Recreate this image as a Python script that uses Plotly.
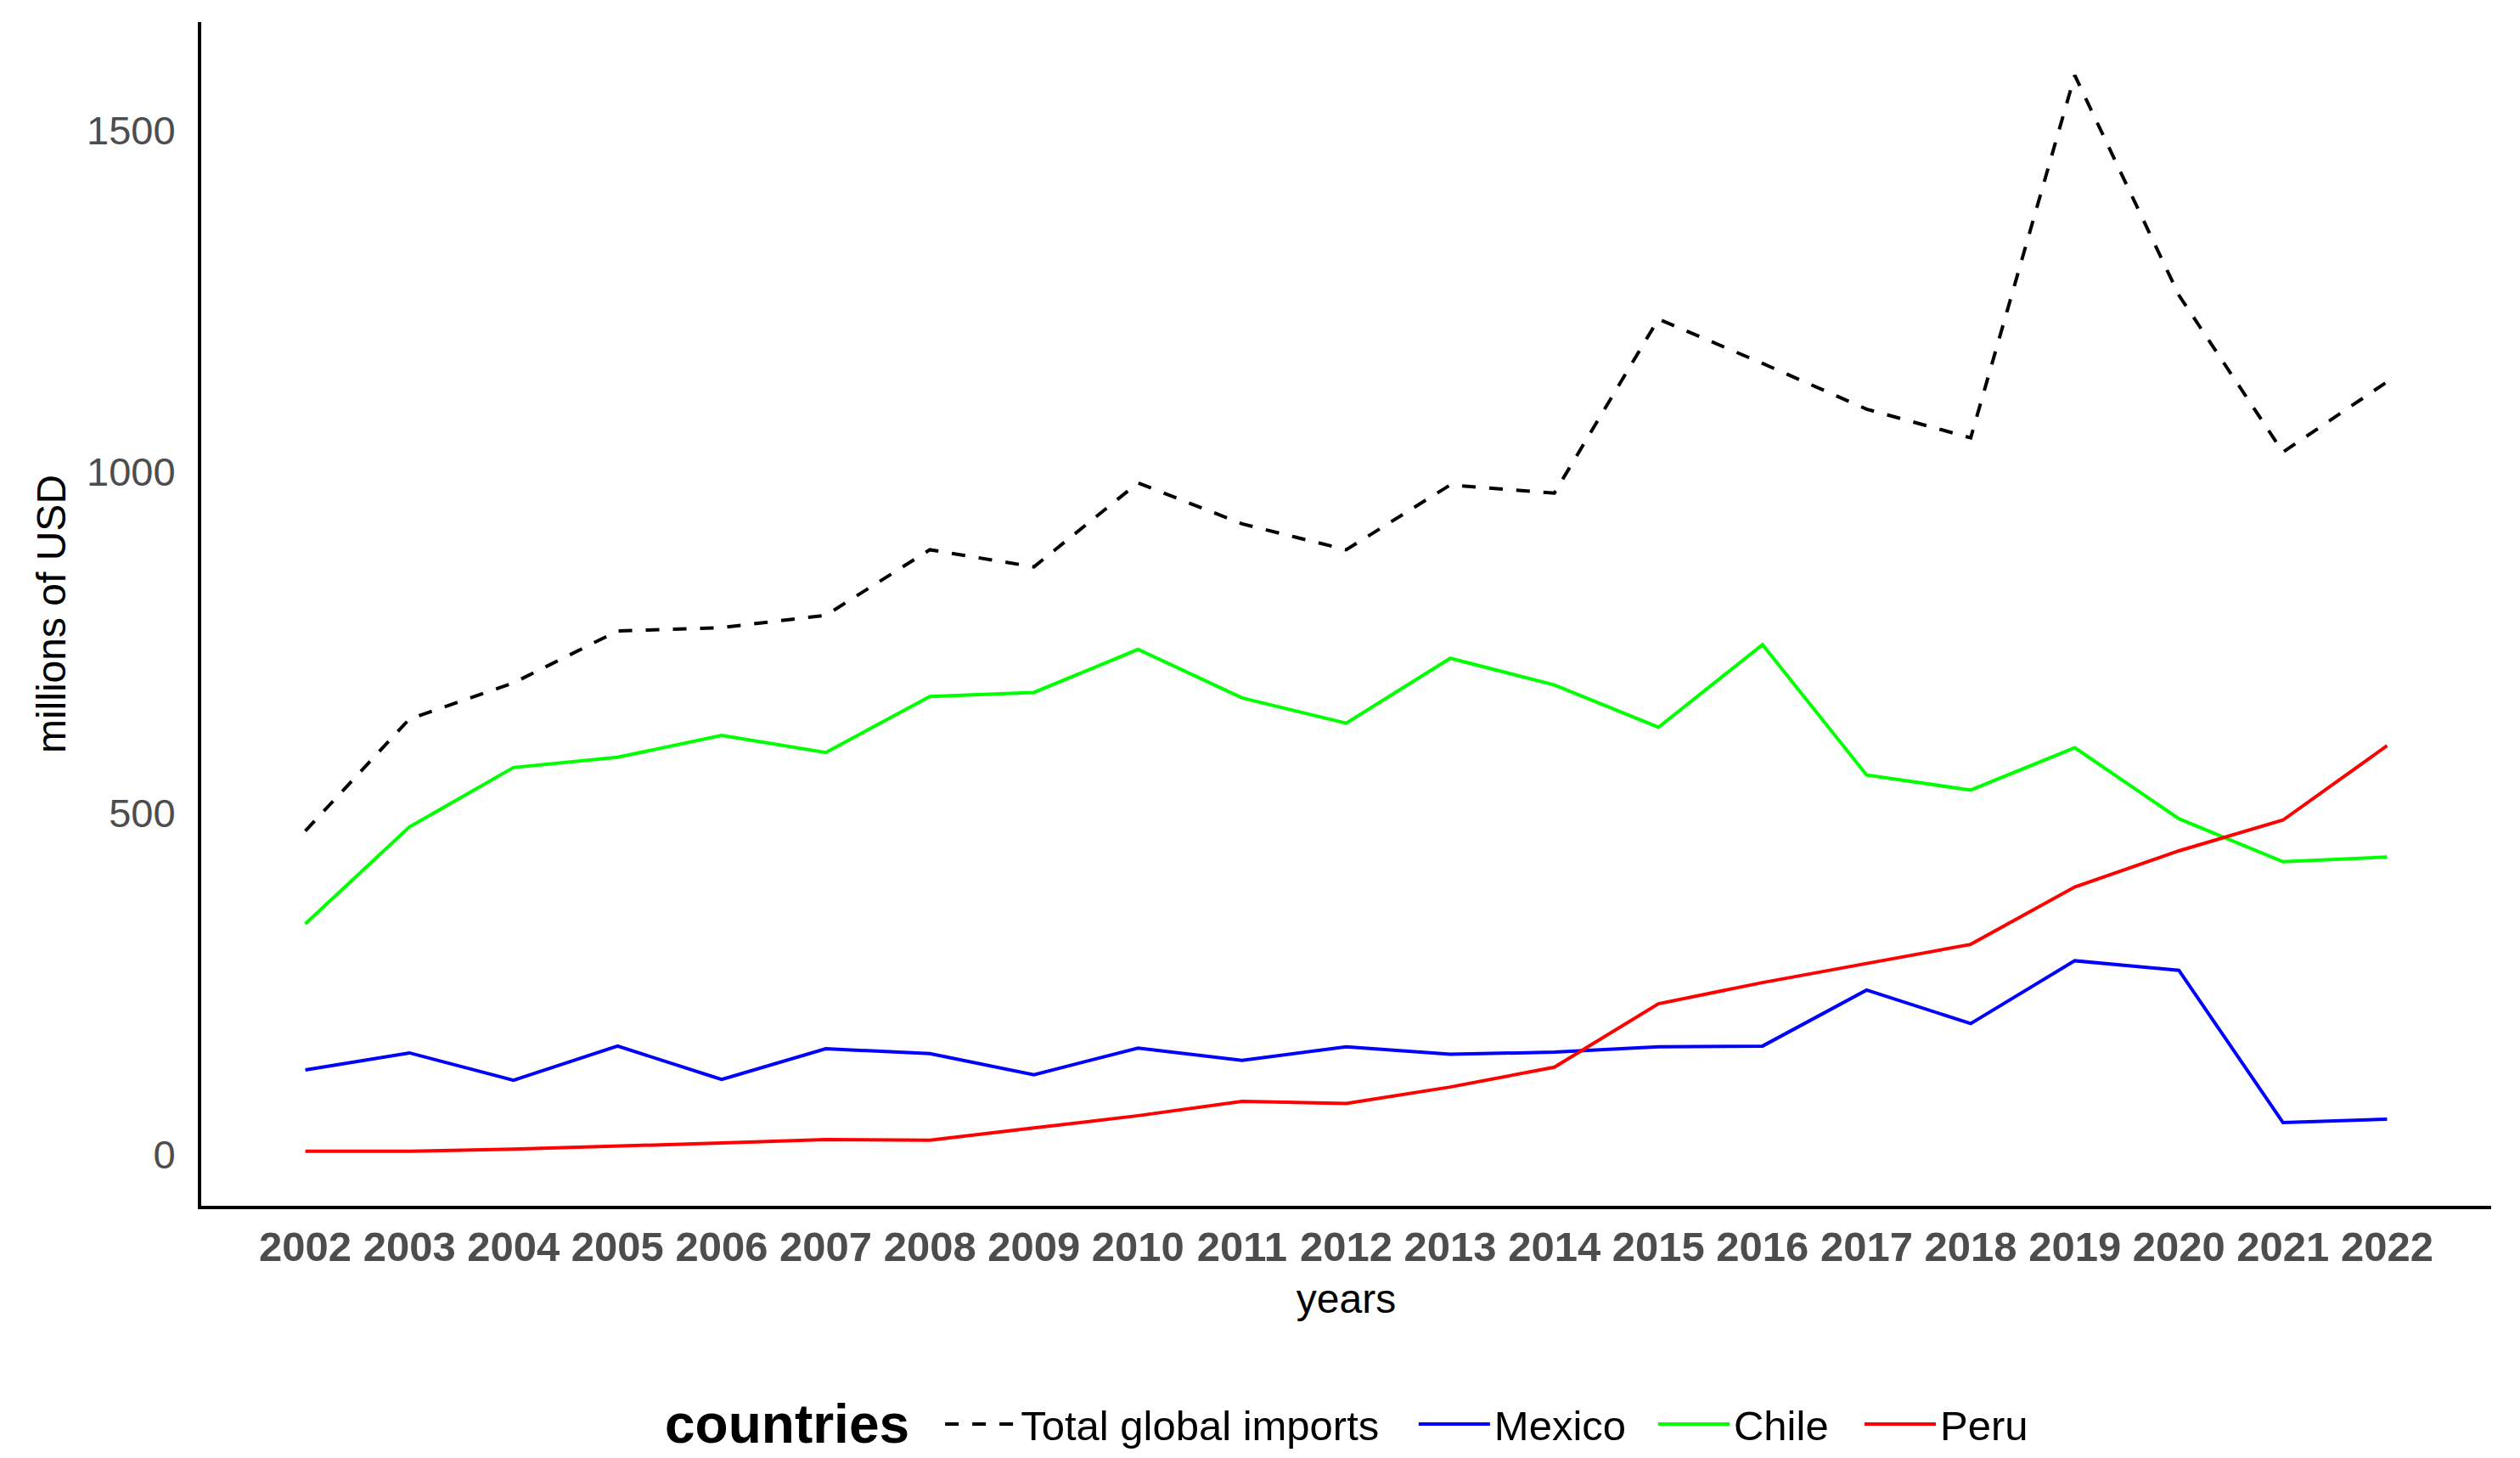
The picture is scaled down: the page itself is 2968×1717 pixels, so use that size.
import plotly.graph_objects as go

# ---- data (millions of USD) ----
years = list(range(2002, 2023))
year_labels = [str(y) for y in years]

total_imports = [474, 638, 691, 767, 772, 790, 886, 861, 984, 924, 886,
                 981, 969, 1224, 1159, 1092, 1050, 1581, 1259, 1029, 1132]
mexico = [124, 149, 109, 159, 110, 155, 148, 117, 156, 138, 158,
          147, 150, 158, 159, 241, 192, 284, 270, 47, 52]
chile = [338, 480, 567, 582, 614, 589, 671, 677, 740, 669, 632,
         727, 688, 626, 747, 556, 534, 596, 492, 429, 436]
peru = [5, 5, 8, 12, 17, 22, 21, 39, 57, 78, 75,
        99, 128, 221, 252, 280, 308, 392, 445, 490, 599]

series_names = ["Total global imports", "Mexico", "Chile", "Peru"]
series_values = [total_imports, mexico, chile, peru]
series_colors = ["black", "#0000FF", "#00FF00", "#FF0000"]
series_dash = ["16px,16px", "solid", "solid", "solid"]
legend_ids = ["legend", "legend2", "legend3", "legend4"]
legend_x = [0.3230, 0.5298, 0.6344, 0.7245]

y_ticks = [0, 500, 1000, 1500]

FONT = "Liberation Sans, Arial, Helvetica, sans-serif"
LEG_Y = -0.1844

fig = go.Figure()
for name, vals, col, dash, lid in zip(series_names, series_values, series_colors,
                                      series_dash, legend_ids):
    fig.add_trace(go.Scatter(
        x=years, y=vals, mode="lines", name=name, legend=lid,
        line=dict(color=col, width=4, dash=dash),
    ))

legend_common = dict(
    orientation="h", xanchor="left", y=LEG_Y, yanchor="middle",
    font=dict(size=49, color="black", family=FONT),
    itemwidth=84, bgcolor="rgba(0,0,0,0)", borderwidth=0,
)
legend_layout = {}
for lid, lx in zip(legend_ids, legend_x):
    legend_layout[lid] = dict(x=lx, **legend_common)

fig.update_layout(
    width=2960, height=1709,
    margin=dict(l=229, r=34, t=18, b=297, autoexpand=False),
    paper_bgcolor="white", plot_bgcolor="white",
    font=dict(family=FONT, size=48, color="black"),
    showlegend=True,
    xaxis=dict(
        range=[2001, 2023], tickmode="array", tickvals=years, ticktext=year_labels,
        showgrid=False, zeroline=False, showline=True, linecolor="black", linewidth=4,
        ticks="", ticklabelstandoff=2,
        tickfont=dict(size=49, color="#4D4D4D", weight="bold"),
        title=dict(text="years", standoff=20, font=dict(size=48, color="black")),
    ),
    yaxis=dict(
        range=[-75, 1659], tickmode="array", tickvals=y_ticks,
        showgrid=False, zeroline=False, showline=True, linecolor="black", linewidth=4,
        ticks="", ticklabelstandoff=17,
        tickfont=dict(size=47, color="#4D4D4D"),
        title=dict(text="millions of USD", standoff=10, font=dict(size=48, color="black")),
    ),
    annotations=[dict(
        text="countries", xref="paper", yref="paper", x=0.2560, y=LEG_Y,
        xanchor="center", yanchor="middle", showarrow=False,
        font=dict(size=64, color="black", family=FONT, weight="bold"),
    )],
    **legend_layout,
)

fig.write_html("out.html")
